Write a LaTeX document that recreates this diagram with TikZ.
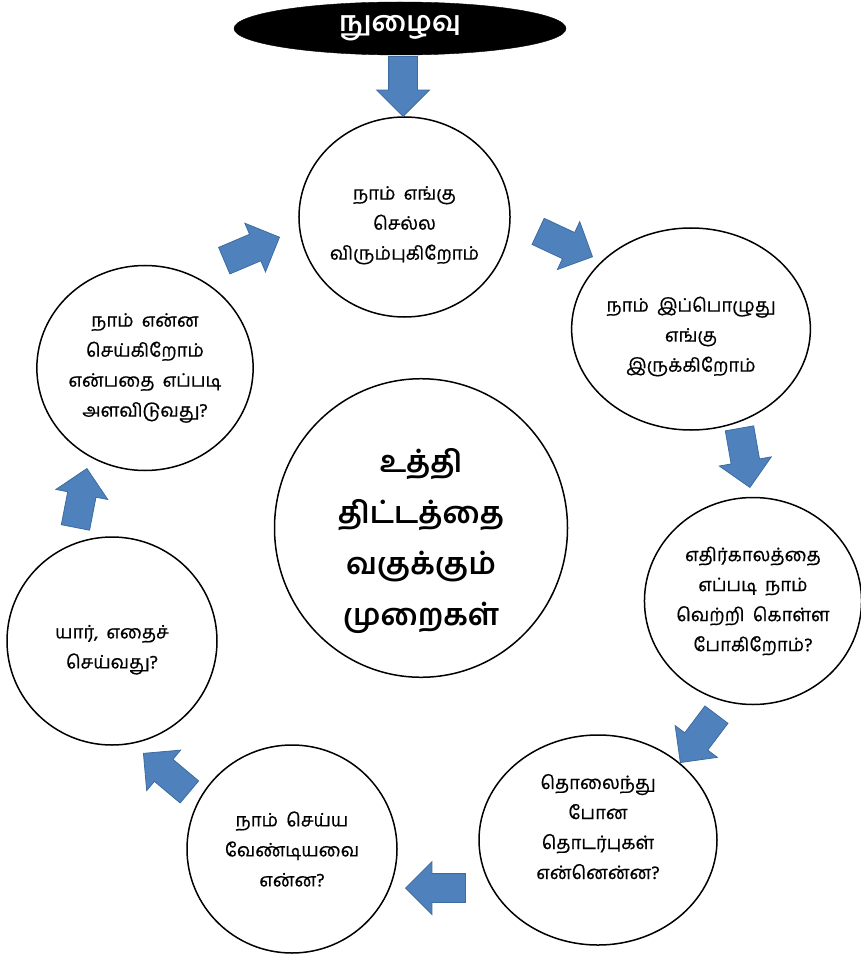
\documentclass[tikz,border=0pt]{standalone}
\usepackage{fontspec}
\newfontfamily\tamil[Script=Tamil, WordSpace=1.8, FakeBold=0.6]{Hind Madurai}
\newfontfamily\tamilhead[Script=Tamil]{Hind Madurai}
\definecolor{ArrowBlue}{HTML}{4F81BD}
\definecolor{ArrowEdge}{HTML}{3C6C9F}
\usetikzlibrary{shapes.geometric,shapes.arrows}

\begin{document}
\begin{tikzpicture}[x=1pt, y=-1pt, every node/.style={font=\tamil},
  stage/.style={draw, ellipse, line width=1.5pt, align=center, inner sep=0pt,
    font=\tamil\fontsize{18.5}{30}\selectfont},
  flow/.style={single arrow, draw=ArrowEdge, fill=ArrowBlue, line width=0.8pt,
    inner xsep=0pt, inner ysep=14pt, minimum height=60pt, minimum width=52pt,
    single arrow head extend=12pt, anchor=tip}]
  \useasboundingbox (0,0) rectangle (860,957);
  \node[ellipse, fill=black, draw=black, minimum width=332pt, minimum height=53pt, text=white,
    font=\tamilhead\bfseries\fontsize{28}{30}\selectfont] (entry) at (400,28.5) {நுழைவு};
  % stages round the centre
  \node[stage, minimum width=205pt, minimum height=200pt] (where) at (404.5,217)
    {\rule{0pt}{30pt}நாம் எங்கு\\செல்ல\\விரும்புகிறோம்};
  \node[stage, minimum width=212pt, minimum height=202pt] (now) at (691,329)
    {\rule{0pt}{30pt}நாம் இப்பொழுது\\எங்கு\\இருக்கிறோம்};
  \node[stage, minimum width=213pt, minimum height=207pt] (future) at (753,601)
    {எதிர்காலத்தை\\எப்படி நாம்\\வெற்றி கொள்ள\\போகிறோம்?};
  \node[stage, minimum width=238pt, minimum height=210pt] (lost) at (598,840)
    {தொலைந்து\\போன\\தொடர்புகள்\\என்னென்ன?\rule[-27pt]{0pt}{27pt}};
  \node[stage, minimum width=210pt, minimum height=208pt] (todo) at (292,849)
    {நாம் செய்ய\\வேண்டியவை\\என்ன?};
  \node[stage, minimum width=210pt, minimum height=208pt] (who) at (112,641)
    {\rule{0pt}{31pt}யார், எதைச்\\செய்வது?};
  \node[stage, minimum width=210pt, minimum height=205pt] (measure) at (145,368)
    {நாம் என்ன\\செய்கிறோம்\\என்பதை எப்படி\\அளவிடுவது?};
  \node[stage, minimum width=293pt, minimum height=295pt,
    font=\tamilhead\bfseries\fontsize{30}{51}\selectfont] (plan) at (421,528)
    {\rule{0pt}{50pt}உத்தி\\திட்டத்தை\\வகுக்கும்\\முறைகள்};
  % block arrows, placed by their tips
  \node[flow, rotate=-90] (a1) at (403,117) {};
  \node[flow, rotate=-25] (a2) at (593,257) {};
  \node[flow, rotate=-80] (a3) at (750,488) {};
  \node[flow, rotate=-127] (a4) at (680,763) {};
  \node[flow, rotate=180] (a5) at (405,888) {};
  \node[flow, rotate=140] (a6) at (143,753) {};
  \node[flow, rotate=79] (a7) at (87,468) {};
  \node[flow, rotate=23] (a8) at (280,237) {};
\end{tikzpicture}
\end{document}
